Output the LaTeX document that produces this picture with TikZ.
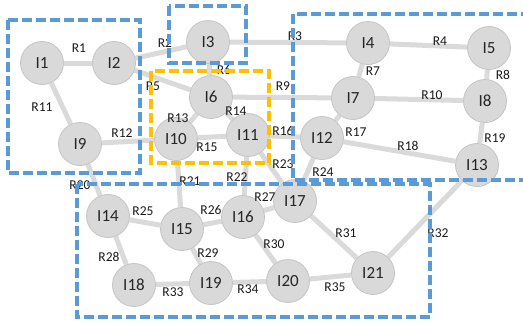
\documentclass[tikz,border=0pt]{standalone}
\usepackage{fontspec}
\setmainfont{Carlito}
\usetikzlibrary{backgrounds}
\definecolor{nodefill}{HTML}{D9D9D9}
\definecolor{nodeline}{HTML}{C4C4C4}
\definecolor{edgegray}{HTML}{DADADA}
\definecolor{boxblue}{HTML}{5B9BD5}
\definecolor{boxyellow}{HTML}{FFC000}
\begin{document}
\begin{tikzpicture}[x=1pt,y=-1pt,
  inode/.style={circle,minimum size=43pt,inner sep=0pt,fill=nodefill,draw=nodeline,line width=0.8pt,font=\fontsize{17}{17}\selectfont,text=black!85},
  wire/.style={line width=5pt,draw=edgegray},
  rlab/.style={inner sep=0pt,font=\fontsize{13.5}{13.5}\selectfont,text=black!90},
  bluebox/.style={draw=boxblue,line width=3.5pt,dash pattern=on 10pt off 4pt},
  yellowbox/.style={draw=boxyellow,line width=3.5pt,dash pattern=on 10pt off 4pt}]
\useasboundingbox (0,0) rectangle (523,325);
% nodes
\node[inode] (I1) at (42,63) {I1};
\node[inode] (I2) at (114,63) {I2};
\node[inode] (I3) at (208,42) {I3};
\node[inode] (I4) at (368,43) {I4};
\node[inode] (I5) at (489,48) {I5};
\node[inode] (I6) at (211,97) {I6};
\node[inode] (I7) at (353,98) {I7};
\node[inode] (I8) at (485,101) {I8};
\node[inode] (I9) at (80,144) {I9};
\node[inode] (I10) at (176,139) {I10};
\node[inode] (I11) at (248,135) {I11};
\node[inode] (I12) at (322,138) {I12};
\node[inode] (I13) at (477,165) {I13};
\node[inode] (I14) at (108,216) {I14};
\node[inode] (I15) at (182,229) {I15};
\node[inode] (I16) at (243,217) {I16};
\node[inode] (I17) at (295,201) {I17};
\node[inode] (I18) at (134,285) {I18};
\node[inode] (I19) at (211,283) {I19};
\node[inode] (I20) at (288,281) {I20};
\node[inode] (I21) at (373,273) {I21};
% edges behind nodes
\begin{scope}[on background layer]
\draw[wire] (I1) -- (I2);
\draw[wire] (I2) -- (I3);
\draw[wire] (I3) -- (I4);
\draw[wire] (I4) -- (I5);
\draw[wire] (I2) -- (I6);
\draw[wire] (I3) -- (I6);
\draw[wire] (I4) -- (I7);
\draw[wire] (I5) -- (I8);
\draw[wire] (I6) -- (I7);
\draw[wire] (I7) -- (I8);
\draw[wire] (I1) -- (I9);
\draw[wire] (I9) -- (I10);
\draw[wire] (I10) -- (I6);
\draw[wire] (I6) -- (I11);
\draw[wire] (I10) -- (I11);
\draw[wire] (I11) -- (I12);
\draw[wire] (I12) -- (I7);
\draw[wire] (I12) -- (I13);
\draw[wire] (I8) -- (I13);
\draw[wire] (I9) -- (I14);
\draw[wire] (I10) -- (I15);
\draw[wire] (I11) -- (I16);
\draw[wire] (I11) -- (I17);
\draw[wire] (I12) -- (I17);
\draw[wire] (I14) -- (I15);
\draw[wire] (I15) -- (I16);
\draw[wire] (I16) -- (I17);
\draw[wire] (I14) -- (I18);
\draw[wire] (I15) -- (I19);
\draw[wire] (I16) -- (I20);
\draw[wire] (I17) -- (I21);
\draw[wire] (I13) -- (I21);
\draw[wire] (I18) -- (I19);
\draw[wire] (I19) -- (I20);
\draw[wire] (I20) -- (I21);
\end{scope}
% labels
\node[rlab] (lR1) at (79,48) {R1};
\node[rlab] (lR2) at (165,43) {R2};
\node[rlab] (lR3) at (295,36) {R3};
\node[rlab] (lR4) at (440,41) {R4};
\node[rlab] (lR5) at (153,86) {R5};
\node[rlab] (lR6) at (224,70) {R6};
\node[rlab] (lR7) at (373,71) {R7};
\node[rlab] (lR8) at (503,75) {R8};
\node[rlab] (lR9) at (283,86) {R9};
\node[rlab] (lR10) at (432,95) {R10};
\node[rlab] (lR11) at (42,107) {R11};
\node[rlab] (lR12) at (122,133) {R12};
\node[rlab] (lR13) at (178,118) {R13};
\node[rlab] (lR14) at (236,111) {R14};
\node[rlab] (lR15) at (207,147) {R15};
\node[rlab] (lR16) at (283,131) {R16};
\node[rlab] (lR17) at (356,132) {R17};
\node[rlab] (lR18) at (408,146) {R18};
\node[rlab] (lR19) at (495,138) {R19};
\node[rlab] (lR20) at (80,185) {R20};
\node[rlab] (lR21) at (190,181) {R21};
\node[rlab] (lR22) at (237,177) {R22};
\node[rlab] (lR23) at (283,164) {R23};
\node[rlab] (lR24) at (323,172) {R24};
\node[rlab] (lR25) at (143,211) {R25};
\node[rlab] (lR26) at (211,210) {R26};
\node[rlab] (lR27) at (265,197) {R27};
\node[rlab] (lR28) at (109,257) {R28};
\node[rlab] (lR29) at (208,253) {R29};
\node[rlab] (lR30) at (274,244) {R30};
\node[rlab] (lR31) at (346,233) {R31};
\node[rlab] (lR32) at (438,233) {R32};
\node[rlab] (lR33) at (173,292) {R33};
\node[rlab] (lR34) at (248,289) {R34};
\node[rlab] (lR35) at (335,287) {R35};
% dashed group boxes
\draw[bluebox] (8,20) rectangle (140,173);
\draw[bluebox] (169,6) rectangle (246,63);
\draw[yellowbox] (151,71) rectangle (269,163);
\draw[bluebox] (293,14) rectangle (540,180);
\draw[bluebox] (77,184) rectangle (430,317);
\end{tikzpicture}
\end{document}
